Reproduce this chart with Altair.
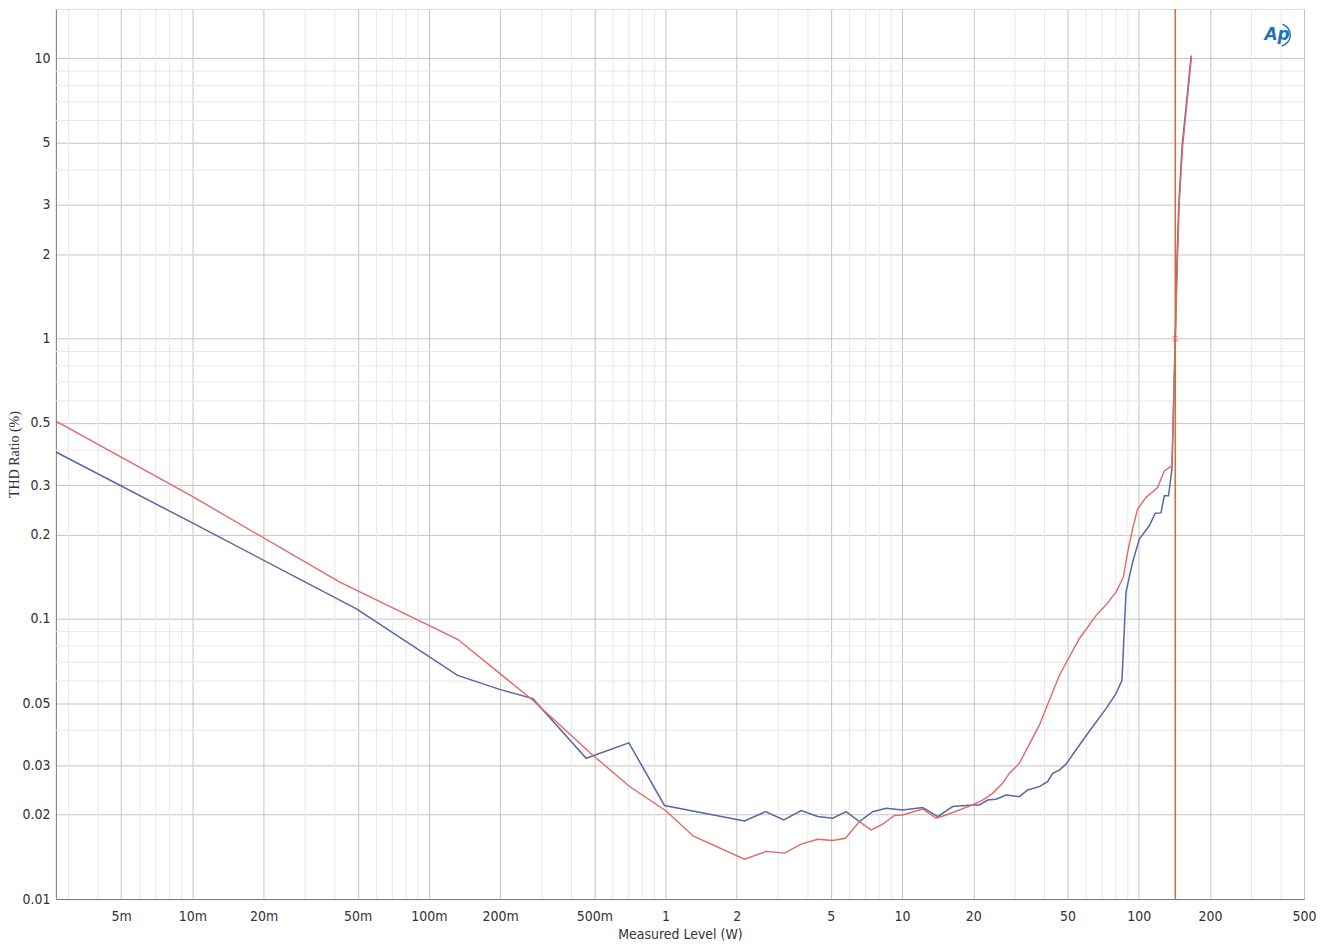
import altair as alt
import pandas as pd

# ---- data (Measured Level in W, THD ratio in %) ----
red_x = [0.00265, 0.00991, 0.042, 0.1322, 0.275, 0.493, 0.705, 1.0, 1.313, 2.157, 2.664, 3.183,
         3.744, 4.40, 5.09, 5.76, 6.60, 7.40, 8.28, 9.28, 10.06, 12.22, 13.92, 15.35, 19.88,
         21.90, 24.14, 26.6, 28.40, 31.30, 38.02, 46.19, 56.1, 66.0, 72.8, 80.2, 86.1, 89.8,
         94.2, 98.9, 107.4, 120.2, 128.3, 138.2, 140.7, 142.8, 146.0, 148.4, 153.3, 158.4, 167.3]
red_y = [0.508, 0.2747, 0.1351, 0.0845, 0.0512, 0.0326, 0.0252, 0.0207, 0.01676, 0.01388, 0.01479,
         0.01458, 0.01570, 0.01635, 0.01618, 0.01648, 0.01890, 0.01765, 0.01849, 0.01986, 0.01995,
         0.02096, 0.01942, 0.01995, 0.02166, 0.02256, 0.02383, 0.02588, 0.02808, 0.03048, 0.04173,
         0.0628, 0.0849, 0.1027, 0.1122, 0.1245, 0.1407, 0.1727, 0.2091, 0.2463, 0.2710, 0.2942,
         0.3371, 0.3512, 0.607, 1.0, 1.963, 3.04, 4.835, 6.357, 10.25]

blue_x = [0.00265, 0.00991, 0.0494, 0.1322, 0.199, 0.275, 0.462, 0.700, 0.990, 2.157, 2.646, 3.161,
          3.744, 4.40, 5.09, 5.80, 6.60, 7.51, 8.56, 10.06, 12.22, 14.14, 16.36, 19.88, 21.21,
          22.99, 24.96, 27.51, 31.30, 33.94, 38.02, 41.22, 43.28, 46.19, 49.3, 56.1, 63.9, 72.8,
          80.2, 85.0, 88.4, 94.2, 100.6, 110.9, 117.5, 124.2, 128.3, 133.7, 138.2, 142.8, 145.4,
          147.8, 152.6, 157.7, 166.6]
blue_y = [0.3938, 0.2208, 0.1085, 0.0628, 0.0560, 0.0519, 0.0318, 0.0361, 0.02157, 0.0190, 0.0205,
          0.01915, 0.02069, 0.0197, 0.01942, 0.0205, 0.0189, 0.0205, 0.02108, 0.02079, 0.0212,
          0.0197, 0.02138, 0.02166, 0.02166, 0.02256, 0.0227, 0.0235, 0.02319, 0.02449, 0.02518,
          0.02624, 0.02808, 0.02885, 0.0303, 0.0354, 0.04118, 0.04782, 0.0541, 0.0603, 0.1245,
          0.1591, 0.1926, 0.2148, 0.2383, 0.2388, 0.2747, 0.2747, 0.3418, 1.0, 1.98, 3.02, 4.85,
          6.40, 10.2]

cursor_x = [142.8]
cursor_y = [1.0]

x_major = [0.005, 0.01, 0.02, 0.05, 0.1, 0.2, 0.5, 1, 2, 5, 10, 20, 50, 100, 200, 500]
x_minor = [0.003, 0.004, 0.006, 0.007, 0.008, 0.009, 0.03, 0.04, 0.06, 0.07, 0.08, 0.09,
           0.3, 0.4, 0.6, 0.7, 0.8, 0.9, 3, 4, 6, 7, 8, 9, 30, 40, 60, 70, 80, 90, 300, 400]
y_major = [0.01, 0.02, 0.03, 0.05, 0.1, 0.2, 0.3, 0.5, 1, 2, 3, 5, 10]
y_minor = [0.04, 0.06, 0.07, 0.08, 0.09, 0.4, 0.6, 0.7, 0.8, 0.9, 4, 6, 7, 8, 9]

RED = "#e06868"
BLUE = "#5468a4"
ORANGE = "#c8733a"
FONT = "DejaVu Sans Condensed, Liberation Sans Narrow, DejaVu Sans, sans-serif"

xs = alt.Scale(type="log", domain=[0.00265, 500], nice=False)
ys = alt.Scale(type="log", domain=[0.01, 15], nice=False)

x_axis = alt.Axis(values=x_major,
                  labelExpr="datum.value < 1 ? round(datum.value*1000) + 'm' : '' + datum.value",
                  grid=True, gridColor="#c4c4c4", ticks=False, domainColor="#7a7a7a",
                  labelColor="#333333", labelFont=FONT, labelFontSize=14, labelPadding=11,
                  labelFlush=False, title="Measured Level (W)", titleFont=FONT,
                  titleFontSize=14, titleFontWeight="normal", titleColor="#333333",
                  titlePadding=4)
y_axis = alt.Axis(values=y_major, labelExpr="'' + datum.value",
                  grid=True, gridColor="#c4c4c4", ticks=False, domainColor="#7a7a7a",
                  labelColor="#333333", labelFont=FONT, labelFontSize=14, labelPadding=6,
                  title="THD Ratio (%)", titleFont="Liberation Serif, serif",
                  titleFontSize=14, titleFontWeight="normal", titleColor="#333333",
                  titleX=-41, titleY=446, titleAngle=270, titleAlign="center",
                  titleBaseline="middle")

red_df = pd.DataFrame({"x": red_x, "y": red_y})
blue_df = pd.DataFrame({"x": blue_x, "y": blue_y})

xminor = alt.Chart(pd.DataFrame({"v": x_minor})).mark_rule(color="#e8e8e8", strokeWidth=1).encode(
    x=alt.X("v:Q", scale=xs, axis=x_axis))
yminor = alt.Chart(pd.DataFrame({"v": y_minor})).mark_rule(color="#e8e8e8", strokeWidth=1).encode(
    y=alt.Y("v:Q", scale=ys, axis=y_axis))

blue_line = alt.Chart(blue_df).mark_line(color=BLUE, strokeWidth=1.5, clip=True).encode(
    x=alt.X("x:Q", scale=xs, axis=x_axis), y=alt.Y("y:Q", scale=ys, axis=y_axis))
red_line = alt.Chart(red_df).mark_line(color=RED, strokeWidth=1.4, clip=True).encode(
    x=alt.X("x:Q", scale=xs, axis=x_axis), y=alt.Y("y:Q", scale=ys, axis=y_axis))

cursor = alt.Chart(pd.DataFrame({"v": cursor_x})).mark_rule(color=ORANGE, strokeWidth=1.6).encode(
    x=alt.X("v:Q", scale=xs, axis=x_axis))
marker = alt.Chart(pd.DataFrame({"x": cursor_x, "y": cursor_y})).mark_point(
    shape="M-1,-1L1,1M-1,1L1,-1", size=30, color=RED, filled=False, strokeWidth=1.2).encode(
    x=alt.X("x:Q", scale=xs, axis=x_axis), y=alt.Y("y:Q", scale=ys, axis=y_axis))

logo = alt.Chart(pd.DataFrame({"t": ["Ap"]})).mark_text(
    font="DejaVu Sans", fontSize=17, fontWeight="bold", fontStyle="italic", color="#1f74b8",
    align="center", baseline="middle").encode(
    x=alt.value(1224), y=alt.value(26), text="t:N")
logo_ring = alt.Chart(pd.DataFrame({"t": ["Ap"]})).mark_arc(
    radius=12, radius2=10.5, theta=0.3, theta2=2.9, color="#1f74b8").encode(
    x=alt.value(1226), y=alt.value(26))

chart = alt.layer(xminor, yminor, blue_line, red_line, cursor, marker, logo_ring, logo).properties(
    width=1251, height=892,
    padding={"left": 48, "top": 0, "right": 18, "bottom": 45},
    autosize=alt.AutoSizeParams(type="none"),
).configure_view(stroke="#7a7a7a", strokeWidth=1).configure(background="white")

chart.save("out.html", embed_options={"renderer": "svg", "actions": False})
